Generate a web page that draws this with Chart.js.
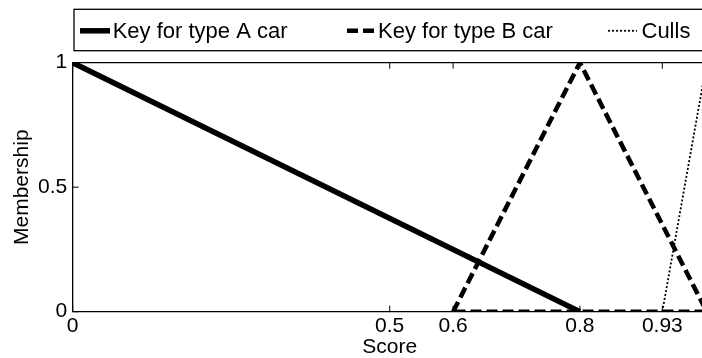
<!DOCTYPE html>
<html><head><meta charset="utf-8">
<script src="https://cdn.jsdelivr.net/npm/chart.js@4.4.1/dist/chart.umd.min.js"></script>
<style>
html,body{margin:0;padding:0;background:#fff;overflow:hidden;width:702px;height:358px}
#wrap{width:720px;height:358px;position:relative}
canvas{display:block}
</style>
</head><body><div id="wrap"><canvas id="c" width="720" height="358"></canvas></div>
<script>
// ---- data ----
const xTicks = [0, 0.5, 0.6, 0.8, 0.93, 1];
const yTicks = [0, 0.5, 1];
const typeAScore = [0, 0.8];
const typeAMember = [1, 0];
const typeBScore = [0.6, 0.8, 1, 0.6];
const typeBMember = [0, 1, 0, 0];
const cullScore = [0.93, 1];
const cullMember = [0, 1];
const seriesLabels = ['Key for type A car', 'Key for type B car', 'Culls'];
const xTitle = 'Score';
const yTitle = 'Membership';

const FONT = '"Liberation Sans", Arial, Helvetica, sans-serif';
const pts = (xs, ys) => xs.map((x, i) => ({x: x, y: ys[i]}));

const legendSlots = [
  {x0: 80, x1: 110, tx: 112.7},
  {x0: 347, x1: 376, tx: 378},
  {x0: 608, x1: 637, tx: 641.5}
];

const framePlugin = {
  id: 'frame',
  afterDatasetsDraw(chart) {
    const {ctx, chartArea: a, scales: {x, y}} = chart;
    ctx.save();
    ctx.strokeStyle = '#000';
    ctx.lineWidth = 1.3;
    ctx.setLineDash([]);
    ctx.beginPath();
    ctx.moveTo(a.left, a.top); ctx.lineTo(a.right + 2, a.top);
    ctx.moveTo(a.right, a.top); ctx.lineTo(a.right, a.bottom);
    ctx.stroke();
    ctx.lineWidth = 1;
    ctx.beginPath();
    xTicks.forEach(v => {
      const px = x.getPixelForValue(v);
      ctx.moveTo(px, a.bottom); ctx.lineTo(px, a.bottom - 6);
      ctx.moveTo(px, a.top); ctx.lineTo(px, a.top + 6);
    });
    yTicks.forEach(v => {
      const py = y.getPixelForValue(v);
      ctx.moveTo(a.left, py); ctx.lineTo(a.left + 6, py);
    });
    ctx.stroke();
    ctx.restore();
  },
  afterDraw(chart) {
    const ctx = chart.ctx;
    ctx.save();
    ctx.strokeStyle = '#000';
    ctx.lineWidth = 1.3;
    ctx.setLineDash([]);
    ctx.strokeRect(74, 9.3, 700, 41.4);
    chart.data.datasets.forEach((ds, i) => {
      const s = legendSlots[i];
      ctx.beginPath();
      ctx.lineWidth = ds.borderWidth;
      ctx.setLineDash(ds.borderDash || []);
      ctx.lineCap = 'butt';
      ctx.moveTo(s.x0, 30.8); ctx.lineTo(s.x1, 30.8);
      ctx.stroke();
      ctx.setLineDash([]);
      ctx.fillStyle = '#000';
      ctx.font = '22px ' + FONT;
      ctx.textBaseline = 'middle';
      ctx.textAlign = 'left';
      ctx.fillText(ds.label, s.tx, 32.2);
    });
    ctx.restore();
  }
};

new Chart(document.getElementById('c'), {
  type: 'line',
  data: {
    datasets: [
      {label: seriesLabels[0], data: pts(typeAScore, typeAMember), borderColor: '#000',
       borderWidth: 5.5, borderDash: [], pointRadius: 0, fill: false, tension: 0, order: 3},
      {label: seriesLabels[1], data: pts(typeBScore, typeBMember), borderColor: '#000',
       borderWidth: 4.5, borderDash: [11, 5], pointRadius: 0, fill: false, tension: 0, order: 2},
      {label: seriesLabels[2], data: pts(cullScore, cullMember), borderColor: '#000',
       borderWidth: 1.8, borderDash: [2, 2], pointRadius: 0, fill: false, tension: 0, order: 1}
    ]
  },
  options: {
    responsive: false,
    devicePixelRatio: 1,
    animation: false,
    events: [],
    layout: {padding: {top: 62.7, right: 13.3, left: 0, bottom: 0}},
    plugins: {legend: {display: false}, tooltip: {enabled: false}, title: {display: false}},
    scales: {
      x: {
        type: 'linear', min: 0, max: 1,
        afterBuildTicks: s => { s.ticks = xTicks.map(v => ({value: v})); },
        afterFit: s => { s.height = 46.3; },
        grid: {display: false, drawTicks: false},
        border: {display: true, color: '#000', width: 1.3},
        ticks: {color: '#000', padding: 2, autoSkip: false, maxRotation: 0,
                font: {family: FONT, size: 21, lineHeight: 1.2},
                callback: v => String(v)},
        title: {display: true, text: xTitle, color: '#000', padding: {top: 0, bottom: 0},
                font: {family: FONT, size: 21, lineHeight: 1}}
      },
      y: {
        type: 'linear', min: 0, max: 1,
        afterBuildTicks: s => { s.ticks = yTicks.map(v => ({value: v})); },
        afterFit: s => { s.width = 72.7; },
        grid: {display: false, drawTicks: false},
        border: {display: true, color: '#000', width: 1.3},
        ticks: {color: '#000', padding: 5.5, autoSkip: false,
                font: {family: FONT, size: 21, lineHeight: 1.2},
                callback: v => String(v)},
        title: {display: true, text: yTitle, color: '#000', padding: {top: 10, bottom: 0},
                font: {family: FONT, size: 21, lineHeight: 1.2}}
      }
    }
  },
  plugins: [framePlugin]
});
</script>
</body></html>
